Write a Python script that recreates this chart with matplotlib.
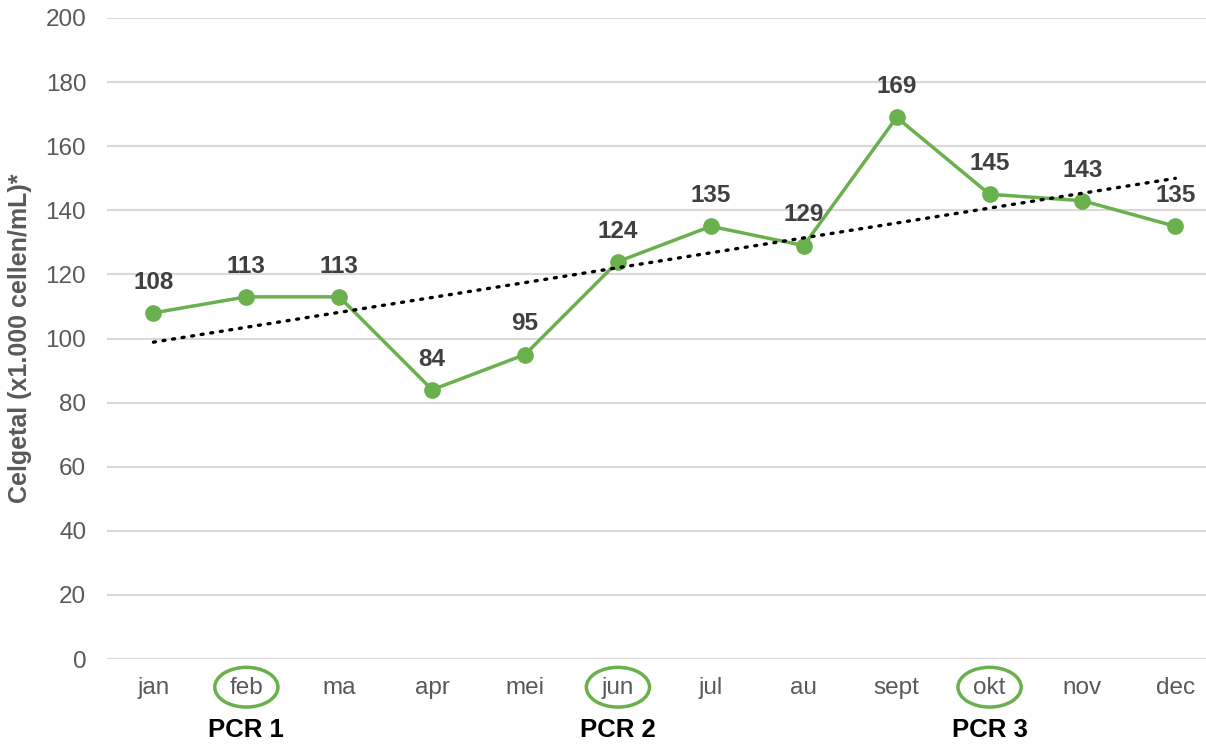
import matplotlib.pyplot as plt
import numpy as np
from matplotlib.patches import Ellipse
from matplotlib.transforms import blended_transform_factory

months = ["jan", "feb", "ma", "apr", "mei", "jun", "jul", "au", "sept", "okt", "nov", "dec"]
counts = [108, 113, 113, 84, 95, 124, 135, 129, 169, 145, 143, 135]
pcr_months = ["feb", "jun", "okt"]
pcr_labels = ["PCR 1", "PCR 2", "PCR 3"]

GREEN = "#6AB04C"
GREY = "#595959"

plt.rcParams["font.family"] = ["Liberation Sans", "DejaVu Sans"]

fig = plt.figure(figsize=(12.06, 7.46), dpi=100)
ax = fig.add_axes([107 / 1206, 87 / 746, 1 - 107 / 1206, (659 - 18) / 746])

x = np.arange(len(months))
ax.plot(x, counts, color=GREEN, linewidth=2.5, marker="o", markersize=11, zorder=3)

# linear trend line
slope, intercept = np.polyfit(x, counts, 1)
ax.plot(x, slope * x + intercept, color="black", linestyle=(0, (0.6, 2.3)),
        linewidth=2.4, dash_capstyle="round", zorder=4)

for xi, v in zip(x, counts):
    ax.annotate(str(v), (xi, v), xytext=(0, 22), textcoords="offset points",
                ha="center", va="center", fontsize=17.5, fontweight="bold",
                color="#404040")

ax.set_ylim(0, 200)
ax.set_yticks(range(0, 201, 20))
ax.set_xlim(-0.5, 11.33)
ax.set_xticks(x)
ax.set_xticklabels(months)
ax.tick_params(axis="both", length=0, labelsize=17.5, colors=GREY)
ax.tick_params(axis="x", pad=13)
ax.tick_params(axis="y", pad=15)
ax.grid(axis="y", color="#D9D9D9", linewidth=1.5)
ax.set_axisbelow(True)
for s in ax.spines.values():
    s.set_visible(False)

ax.set_ylabel("Celgetal (x1.000 cellen/mL)*", fontsize=18, fontweight="bold",
              color=GREY)
ax.yaxis.set_label_coords(-0.068, 0.5)

trans = blended_transform_factory(ax.transData, ax.transAxes)
for m, lab in zip(pcr_months, pcr_labels):
    xi = months.index(m)
    ax.add_patch(Ellipse((xi, -0.044), 0.68, 0.062, transform=trans,
                         fill=False, edgecolor=GREEN, linewidth=2.5, clip_on=False))
    ax.text(xi, -0.111, lab, transform=trans, ha="center", va="center",
            fontsize=18.5, fontweight="bold", color="black")

fig.savefig("out.png", dpi=100)
